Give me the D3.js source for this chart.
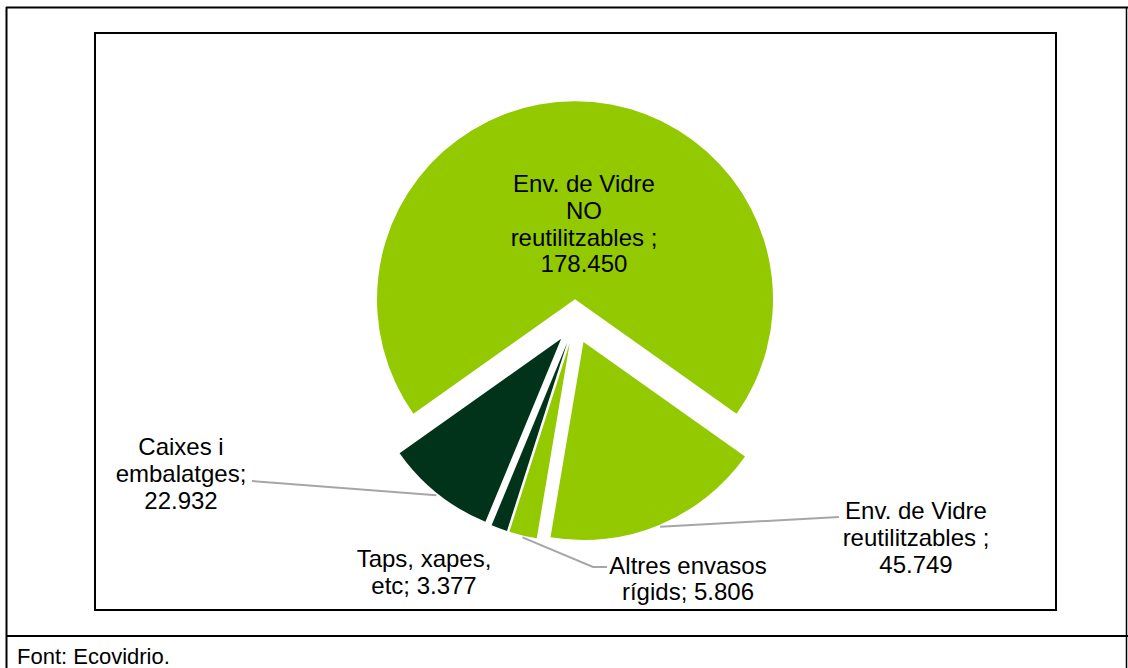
<!DOCTYPE html>
<html>
<head>
<meta charset="utf-8">
<script src="https://cdn.jsdelivr.net/npm/d3@7"></script>
<style>
  html, body { margin: 0; padding: 0; background: #fff; }
  svg { display: block; font-family: "Liberation Sans", Arial, sans-serif; }
</style>
</head>
<body>
<svg id="chart" width="1128" height="668"></svg>
<script>
// Packaging tonnages by type
const categories = [
  "Env. de Vidre NO reutilitzables",
  "Env. de Vidre reutilitzables",
  "Altres envasos rígids",
  "Taps, xapes, etc",
  "Caixes i embalatges"
];
const values = [178450, 45749, 5806, 3377, 22932];
const sliceColors = ["#93C901", "#93C901", "#93C901", "#00331A", "#00331A"];
// Label text, one entry per line; "{v}" is replaced by the formatted value
const labelLines = [
  ["Env. de Vidre", "NO", "reutilitzables ;", "{v}"],
  ["Env. de Vidre", "reutilitzables ;", "{v}"],
  ["Altres envasos", "rígids; {v}"],
  ["Taps, xapes,", "etc; {v}"],
  ["Caixes i", "embalatges;", "{v}"]
];
const sourceNote = "Font: Ecovidrio.";

// Layout
const W = 1128, H = 668;
const cx = 575, cy = 321.5, R = 198, explode = 22.2;
const firstSliceDeg = 234.7;
const fontSize = 24, lineH = 26.8;
const labelPos = [
  { x: 584, y: 192 },
  { x: 916, y: 519 },
  { x: 688, y: 573.5 },
  { x: 424, y: 567 },
  { x: 181, y: 455 }
];
// Leader lines: points on the label side, then the slice edge is appended
const leaderStart = [
  null,
  [[839, 517]],
  [[607, 567], [593, 567]],
  null,
  [[252, 481]]
];

const fmt = d3.formatLocale({ decimal: ",", thousands: ".", grouping: [3], currency: ["", " €"] }).format(",d");

const svg = d3.select("#chart");

// Outer frame
const frame = svg.append("g").attr("stroke", "#000").attr("fill", "none");
frame.append("line").attr("x1", 6.5).attr("x2", 6.5).attr("y1", 7).attr("y2", H).attr("stroke-width", 2);
frame.append("line").attr("x1", 1126.5).attr("x2", 1126.5).attr("y1", 7).attr("y2", H).attr("stroke-width", 1.5);
frame.append("line").attr("x1", 6).attr("x2", W).attr("y1", 7.5).attr("y2", 7.5).attr("stroke-width", 2);
frame.append("line").attr("x1", 6).attr("x2", W).attr("y1", 636).attr("y2", 636).attr("stroke-width", 2);

// Chart area box
svg.append("rect")
  .attr("x", 95).attr("y", 33).attr("width", 961).attr("height", 577)
  .attr("fill", "#fff").attr("stroke", "#000").attr("stroke-width", 2);

// Pie
const a0 = firstSliceDeg * Math.PI / 180;
const pie = d3.pie().sort(null).value(d => d).startAngle(a0).endAngle(a0 + 2 * Math.PI);
const arcs = pie(values);
const arc = d3.arc().innerRadius(0).outerRadius(R);
const edgeArc = d3.arc().innerRadius(R + 2).outerRadius(R + 2);

function offset(d) {
  const mid = (d.startAngle + d.endAngle) / 2;
  return [explode * Math.sin(mid), -explode * Math.cos(mid)];
}

const pieG = svg.append("g").attr("transform", `translate(${cx},${cy})`);
pieG.selectAll("path.slice")
  .data(arcs)
  .join("path")
  .attr("class", "slice")
  .attr("d", arc)
  .attr("fill", (d, i) => sliceColors[i])
  .attr("transform", d => { const o = offset(d); return `translate(${o[0]},${o[1]})`; });

// Leader lines
const line = d3.line();
arcs.forEach((d, i) => {
  if (!leaderStart[i]) return;
  const o = offset(d);
  const c = edgeArc.centroid(d);
  const pts = leaderStart[i].concat([[cx + o[0] + c[0], cy + o[1] + c[1]]]);
  svg.append("path")
    .attr("d", line(pts))
    .attr("fill", "none")
    .attr("stroke", "#A6A6A6")
    .attr("stroke-width", 2);
});

// Data labels
arcs.forEach((d, i) => {
  const t = svg.append("text")
    .attr("x", labelPos[i].x)
    .attr("y", labelPos[i].y)
    .attr("text-anchor", "middle")
    .attr("font-size", fontSize)
    .attr("fill", "#000");
  labelLines[i].forEach((ln, k) => {
    t.append("tspan")
      .attr("x", labelPos[i].x)
      .attr("y", labelPos[i].y + k * lineH)
      .text(ln.replace("{v}", fmt(d.data)));
  });
});

// Source note
svg.append("text")
  .attr("x", 17).attr("y", 664)
  .attr("font-size", 22)
  .attr("fill", "#000")
  .text(sourceNote);
</script>
</body>
</html>
